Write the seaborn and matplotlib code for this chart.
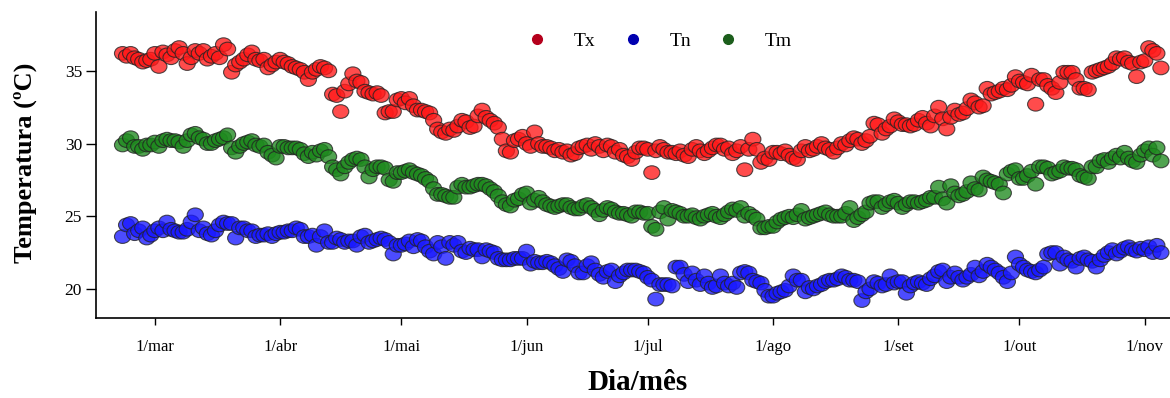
import numpy as np
import pandas as pd
import matplotlib
matplotlib.use("Agg")
import matplotlib.pyplot as plt
import matplotlib.dates as mdates
from matplotlib.path import Path
from matplotlib.lines import Line2D
import seaborn as sns

# ---------------- data (daily, 21/fev .. 05/nov) ----------------
start_date = "2021-02-21"

tx_fev = [36.2, 36.0, 36.2, 35.9, 35.8, 35.6, 35.7, 35.8]
tx_mar = [36.2, 35.3, 36.3, 36.1, 35.9, 36.4, 36.6, 36.2, 35.5, 35.9,
          36.4, 36.2, 36.4, 35.8, 36.0, 36.2, 35.9, 36.8, 36.5, 34.9,
          35.4, 35.6, 35.8, 36.1, 36.3, 35.8, 35.7, 35.8, 35.2, 35.4, 35.6]
tx_abr = [35.8, 35.6, 35.5, 35.3, 35.2, 35.1, 34.9, 34.4, 34.9, 35.1,
          35.3, 35.2, 35.0, 33.4, 33.3, 32.2, 33.6, 34.1, 34.8, 34.3,
          34.2, 33.6, 33.5, 33.4, 33.5, 33.3, 32.1, 32.2, 32.2, 33.0]
tx_mai = [33.1, 32.8, 33.1, 32.6, 32.3, 32.3, 32.2, 32.1, 31.6, 31.0,
          30.8, 30.7, 31.0, 30.9, 31.2, 31.6, 31.5, 31.1, 31.2, 31.9,
          32.3, 31.8, 31.6, 31.4, 31.1, 30.3, 29.5, 29.4, 30.2, 30.3, 30.5]
tx_jun = [30.0, 29.8, 30.8, 30.0, 29.8, 29.8, 29.7, 29.5, 29.6, 29.4,
          29.5, 29.2, 29.3, 29.7, 29.8, 29.9, 29.6, 30.0, 29.8, 29.5,
          29.9, 29.8, 29.4, 29.6, 29.2, 29.1, 28.9, 29.4, 29.7, 29.7]
tx_jul = [29.6, 28.0, 29.5, 29.8, 29.6, 29.4, 29.4, 29.3, 29.5, 29.2,
          29.1, 29.6, 29.8, 29.5, 29.3, 29.5, 29.7, 29.9, 29.9, 29.6,
          29.7, 29.3, 29.5, 29.8, 28.2, 29.6, 30.3, 29.6, 28.7, 29.0, 28.9]
tx_ago = [29.4, 29.4, 29.3, 29.5, 29.2, 29.0, 28.9, 29.5, 29.8, 29.5,
          29.6, 29.8, 30.0, 29.7, 29.6, 29.4, 29.7, 30.0, 29.9, 30.2,
          30.4, 30.3, 30.0, 30.2, 30.5, 31.4, 31.3, 30.7, 31.0, 31.2, 31.7]
tx_set = [31.5, 31.3, 31.3, 31.2, 31.3, 31.6, 31.8, 31.4, 31.2, 31.9,
          32.5, 31.7, 31.0, 31.8, 32.3, 32.0, 32.1, 32.4, 33.0, 32.8,
          32.5, 32.6, 33.8, 33.4, 33.5, 33.6, 33.8, 33.7, 34.0, 34.6]
tx_out = [34.3, 34.2, 34.1, 34.7, 32.7, 34.4, 34.4, 34.0, 33.8, 33.5,
          34.2, 34.9, 34.9, 34.9, 34.4, 33.8, 33.8, 33.7, 34.9, 35.0,
          35.1, 35.2, 35.3, 35.5, 35.9, 35.8, 35.9, 35.6, 35.5, 34.6, 35.6]
tx_nov = [35.7, 36.6, 36.4, 36.2, 35.2]

tn_fev = [23.6, 24.4, 24.5, 23.8, 24.0, 24.2, 23.5, 23.7]
tn_mar = [24.0, 24.2, 24.0, 24.6, 24.1, 24.0, 23.9, 23.9, 24.1, 24.6,
          25.1, 24.0, 24.2, 23.8, 23.7, 24.0, 24.4, 24.6, 24.5, 24.5,
          23.5, 24.2, 24.2, 24.0, 24.0, 23.6, 23.7, 23.7, 23.8, 23.6, 23.8]
tn_abr = [23.9, 23.9, 24.0, 24.0, 24.2, 24.1, 23.6, 23.6, 23.7, 23.0,
          23.6, 24.0, 23.2, 23.2, 23.5, 23.4, 23.2, 23.3, 23.3, 23.0,
          23.6, 23.7, 23.2, 23.3, 23.4, 23.5, 23.4, 23.2, 22.4, 23.0]
tn_mai = [23.0, 23.1, 23.3, 22.9, 23.4, 23.3, 22.9, 22.6, 22.4, 23.2,
          22.9, 22.1, 23.2, 23.0, 23.2, 22.6, 22.5, 22.8, 22.7, 22.7,
          22.2, 22.7, 22.6, 22.5, 22.1, 22.0, 22.0, 22.0, 22.1, 22.1, 22.1]
tn_jun = [22.6, 21.7, 21.9, 21.8, 21.8, 21.9, 21.8, 21.6, 21.4, 21.2,
          22.0, 21.9, 21.6, 21.1, 21.1, 21.6, 21.8, 21.3, 21.0, 20.8,
          21.2, 21.3, 20.5, 20.9, 21.1, 21.3, 21.3, 21.3, 21.2, 21.1]
tn_jul = [20.8, 20.6, 19.3, 20.3, 20.3, 20.3, 20.2, 21.5, 21.5, 21.0,
          20.5, 21.1, 20.6, 20.3, 20.9, 20.4, 20.1, 20.2, 20.9, 20.4,
          20.2, 20.4, 20.1, 21.1, 21.2, 21.1, 20.6, 20.5, 20.4, 19.9, 19.5]
tn_ago = [19.5, 19.7, 19.8, 19.9, 20.2, 20.9, 20.6, 20.6, 19.8, 20.1,
          20.0, 20.2, 20.3, 20.5, 20.6, 20.6, 20.7, 20.9, 20.8, 20.6,
          20.6, 20.5, 19.2, 19.8, 20.0, 20.5, 20.4, 20.2, 20.3, 20.9, 20.4]
tn_set = [20.5, 20.5, 19.7, 20.2, 20.4, 20.5, 20.4, 20.3, 20.7, 20.9,
          21.2, 21.3, 20.5, 20.8, 21.1, 20.8, 20.6, 20.8, 21.0, 21.5,
          20.9, 21.2, 21.7, 21.5, 21.3, 21.1, 20.8, 20.5, 21.1, 22.2]
tn_out = [21.7, 21.5, 21.3, 21.2, 21.1, 21.3, 21.5, 22.4, 22.5, 22.5,
          21.7, 22.2, 22.0, 21.9, 21.5, 22.1, 22.2, 22.0, 21.9, 21.5,
          22.0, 22.3, 22.5, 22.7, 22.4, 22.6, 22.8, 22.9, 22.7, 22.6, 22.8]
tn_nov = [22.7, 22.9, 22.5, 23.0, 22.5]

tm_fev = [29.9, 30.2, 30.4, 29.8, 29.8, 29.6, 29.9, 29.9]
tm_mar = [30.1, 29.8, 30.2, 30.3, 30.2, 30.2, 30.1, 29.8, 30.2, 30.6,
          30.7, 30.4, 30.3, 30.0, 30.0, 30.2, 30.3, 30.4, 30.6, 29.7,
          29.4, 29.8, 30.0, 30.1, 30.2, 29.9, 29.8, 29.9, 29.4, 29.2, 29.0]
tm_abr = [29.8, 29.8, 29.7, 29.7, 29.7, 29.6, 29.3, 29.1, 29.4, 29.2,
          29.5, 29.6, 29.1, 28.4, 28.2, 27.9, 28.4, 28.7, 28.9, 29.0,
          28.9, 28.4, 27.7, 28.2, 28.4, 28.4, 28.3, 27.5, 27.4, 28.0]
tm_mai = [28.0, 28.1, 28.2, 28.0, 27.9, 27.8, 27.6, 27.4, 26.9, 26.5,
          26.5, 26.4, 26.3, 26.3, 27.0, 27.2, 27.0, 27.0, 27.1, 27.2,
          27.2, 27.1, 26.9, 26.7, 26.4, 26.0, 25.8, 25.7, 26.1, 26.2, 26.5]
tm_jun = [26.6, 25.9, 26.1, 26.3, 26.0, 25.8, 25.7, 25.6, 25.7, 25.8,
          25.8, 25.6, 25.5, 25.5, 25.7, 25.8, 25.6, 25.4, 25.1, 25.4,
          25.6, 25.5, 25.3, 25.2, 25.2, 25.1, 25.0, 25.3, 25.3, 25.2]
tm_jul = [25.2, 24.3, 24.1, 25.3, 25.6, 24.8, 25.4, 25.3, 25.2, 25.0,
          25.0, 25.1, 24.9, 24.8, 25.0, 25.1, 25.2, 25.0, 24.9, 25.1,
          25.3, 25.5, 25.4, 25.6, 25.0, 25.2, 25.0, 24.8, 24.2, 24.2, 24.3]
tm_ago = [24.3, 24.6, 24.8, 24.9, 25.0, 24.9, 25.1, 25.4, 24.8, 24.9,
          25.0, 25.1, 25.2, 25.3, 25.1, 25.0, 25.0, 25.0, 25.2, 25.6,
          24.7, 24.9, 25.1, 25.3, 25.9, 26.0, 26.0, 25.6, 25.8, 26.0, 26.1]
tm_set = [25.9, 25.6, 25.8, 26.0, 26.0, 25.9, 26.0, 26.1, 26.3, 26.3,
          27.0, 26.2, 25.9, 27.1, 26.6, 26.4, 26.5, 26.7, 27.3, 26.9,
          26.8, 27.7, 27.5, 27.4, 27.3, 27.2, 26.6, 27.9, 28.1, 28.2]
tm_out = [27.6, 27.6, 27.8, 28.1, 27.2, 28.4, 28.4, 28.3, 27.9, 28.0,
          28.1, 28.4, 28.3, 28.3, 28.2, 27.8, 27.7, 27.6, 28.4, 28.4,
          28.8, 28.9, 28.7, 29.0, 29.2, 29.0, 29.4, 29.0, 28.8, 28.7, 29.2]
tm_nov = [29.5, 29.7, 29.2, 29.7, 28.8]

series_names = ["Tx", "Tn", "Tm"]
tick_dates = ["2021-03-01", "2021-04-01", "2021-05-01", "2021-06-01", "2021-07-01",
              "2021-08-01", "2021-09-01", "2021-10-01", "2021-11-01"]
tick_labels = ["1/mar", "1/abr", "1/mai", "1/jun", "1/jul",
               "1/ago", "1/set", "1/out", "1/nov"]
y_ticks = [20, 25, 30, 35]

tx = tx_fev + tx_mar + tx_abr + tx_mai + tx_jun + tx_jul + tx_ago + tx_set + tx_out + tx_nov
tn = tn_fev + tn_mar + tn_abr + tn_mai + tn_jun + tn_jul + tn_ago + tn_set + tn_out + tn_nov
tm = tm_fev + tm_mar + tm_abr + tm_mai + tm_jun + tm_jul + tm_ago + tm_set + tm_out + tm_nov
dates = pd.date_range(start_date, periods=len(tx), freq="D")

df = pd.DataFrame({"Dia": dates, "Tx": tx, "Tn": tn, "Tm": tm})
long = df.melt(id_vars="Dia", value_vars=series_names, var_name="Serie", value_name="T")

# ---------------- style ----------------
sns.set_style("ticks")
plt.rcParams["font.family"] = ["Liberation Serif", "DejaVu Serif"]
plt.rcParams["text.color"] = "black"
plt.rcParams["axes.labelcolor"] = "black"

palette = {"Tx": "#ff1a1a", "Tn": "#1a1aff", "Tm": "#1f8a1f"}
legend_colors = {"Tx": "#b5001c", "Tn": "#0000b0", "Tm": "#1c5e1c"}

# horizontally stretched ellipse marker (as in the reference)
circ = Path.unit_circle()
ellipse = Path(circ.vertices * np.array([1.18, 1.0]), circ.codes)

fig = plt.figure(figsize=(11.70, 3.98), dpi=100)
ax = fig.add_axes([0.082, 0.201, 0.918, 0.769])

sns.scatterplot(data=long, x="Dia", y="T", hue="Serie", hue_order=series_names,
                palette=palette, marker=ellipse, s=135, alpha=0.78,
                edgecolor="#222222", linewidth=0.8, legend=False, ax=ax)

ax.set_ylim(18, 39.05)
ax.set_xlim(pd.Timestamp("2021-02-14 10:00"), pd.Timestamp("2021-11-07 06:00"))
ax.set_yticks(y_ticks)
ax.set_yticklabels([str(v) for v in y_ticks], fontsize=12.5)
ax.set_xticks(mdates.date2num(pd.to_datetime(tick_dates)))
ax.set_xticklabels(tick_labels, fontsize=12)
ax.tick_params(axis="x", length=5, width=1.0, pad=10, colors="black")
ax.tick_params(axis="y", length=7, width=1.0, pad=3, colors="black")

for side in ["top", "right"]:
    ax.spines[side].set_visible(False)
for side in ["left", "bottom"]:
    ax.spines[side].set_color("black")
    ax.spines[side].set_linewidth(1.2)

ax.set_xlabel("Dia/mês", fontsize=21, fontweight="bold", va="center", color="black")
ax.set_ylabel("Temperatura (ºC)", fontsize=19, fontweight="bold", va="center", color="black")
ax.xaxis.set_label_coords(0.504, -0.212)
ax.yaxis.set_label_coords(-0.066, 0.507)

handles = [Line2D([0], [0], linestyle="none", marker="o", markersize=7,
                  markerfacecolor=legend_colors[n], markeredgecolor=legend_colors[n])
           for n in series_names]
leg = ax.legend(handles, series_names, loc="upper center", bbox_to_anchor=(0.525, 0.99),
                ncol=3, frameon=False, fontsize=14, handletextpad=1.4, columnspacing=1.4,
                handlelength=1.0)
for t in leg.get_texts():
    t.set_color("black")

fig.savefig("out.png", dpi=100)
